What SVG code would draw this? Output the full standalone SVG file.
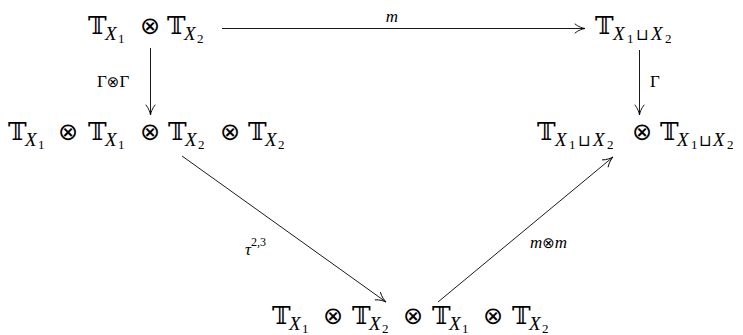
<svg xmlns="http://www.w3.org/2000/svg" width="743" height="335" viewBox="0 0 743 335">
<style>
text{fill:#000}
.bb{font-family:"DejaVu Serif","DejaVu Sans",serif;font-size:25px}
.op{font-family:"DejaVu Sans",sans-serif;font-size:24px}
.sx{font-family:"Liberation Serif",serif;font-style:italic;font-size:19px}
.sd{font-family:"Liberation Serif",serif;font-style:normal;font-size:13px}
.su{font-family:"DejaVu Sans",sans-serif;font-style:normal;font-size:16px}
.lb{font-family:"Liberation Serif",serif;font-size:17px}
.lbi{font-family:"Liberation Serif",serif;font-style:italic;font-size:17px}
.lop{font-family:"DejaVu Sans",sans-serif;font-style:normal;font-size:15px}
.ls{font-family:"Liberation Serif",serif;font-style:normal;font-size:12px}
.ar{stroke:#000;stroke-width:0.9;fill:none;marker-end:url(#to)}
</style>
<defs>
<marker id="to" markerUnits="userSpaceOnUse" viewBox="-11 -6 13 12" markerWidth="13" markerHeight="12" refX="0" refY="0" orient="auto" overflow="visible">
<path d="M-10,-4.5 C-6.5,-1.6 -2.5,-0.5 0,0 C-2.5,0.5 -6.5,1.6 -10,4.5" fill="none" stroke="#000" stroke-width="0.9" stroke-linecap="round"/>
</marker>
</defs>

<g id="n1">
<text><tspan class="bb" x="88" y="34">𝕋</tspan><tspan class="sx" x="105" y="40">X</tspan><tspan class="sd" x="118" y="43">1</tspan><tspan class="op" x="140" y="34">⊗</tspan><tspan class="bb" x="167" y="34">𝕋</tspan><tspan class="sx" x="184" y="40">X</tspan><tspan class="sd" x="197" y="43">2</tspan></text>
</g>

<g id="n2">
<text><tspan class="bb" x="595" y="34">𝕋</tspan><tspan class="sx" x="613" y="40">X</tspan><tspan class="sd" x="627" y="43">1</tspan><tspan class="su" x="636" y="40">⊔</tspan><tspan class="sx" x="651" y="40">X</tspan><tspan class="sd" x="665" y="43">2</tspan></text>
</g>

<g id="n3">
<text><tspan class="bb" x="8" y="140">𝕋</tspan><tspan class="sx" x="25" y="146">X</tspan><tspan class="sd" x="38" y="149">1</tspan><tspan class="op" x="58" y="140">⊗</tspan><tspan class="bb" x="88" y="140">𝕋</tspan><tspan class="sx" x="105" y="146">X</tspan><tspan class="sd" x="118" y="149">1</tspan><tspan class="op" x="140" y="140">⊗</tspan><tspan class="bb" x="168" y="140">𝕋</tspan><tspan class="sx" x="185" y="146">X</tspan><tspan class="sd" x="198" y="149">2</tspan><tspan class="op" x="220" y="140">⊗</tspan><tspan class="bb" x="248" y="140">𝕋</tspan><tspan class="sx" x="265" y="146">X</tspan><tspan class="sd" x="278" y="149">2</tspan></text>
</g>

<g id="n4">
<text><tspan class="bb" x="537" y="140">𝕋</tspan><tspan class="sx" x="555" y="146">X</tspan><tspan class="sd" x="569" y="149">1</tspan><tspan class="su" x="578" y="146">⊔</tspan><tspan class="sx" x="593" y="146">X</tspan><tspan class="sd" x="607" y="149">2</tspan><tspan class="op" x="632" y="140">⊗</tspan><tspan class="bb" x="660" y="140">𝕋</tspan><tspan class="sx" x="677" y="146">X</tspan><tspan class="sd" x="691" y="149">1</tspan><tspan class="su" x="699" y="146">⊔</tspan><tspan class="sx" x="713" y="146">X</tspan><tspan class="sd" x="727" y="149">2</tspan></text>
</g>

<g id="n5">
<text><tspan class="bb" x="272" y="324">𝕋</tspan><tspan class="sx" x="289" y="330">X</tspan><tspan class="sd" x="302" y="333">1</tspan><tspan class="op" x="323" y="324">⊗</tspan><tspan class="bb" x="352" y="324">𝕋</tspan><tspan class="sx" x="369" y="330">X</tspan><tspan class="sd" x="382" y="333">2</tspan><tspan class="op" x="403" y="324">⊗</tspan><tspan class="bb" x="432" y="324">𝕋</tspan><tspan class="sx" x="449" y="330">X</tspan><tspan class="sd" x="462" y="333">1</tspan><tspan class="op" x="483" y="324">⊗</tspan><tspan class="bb" x="512" y="324">𝕋</tspan><tspan class="sx" x="529" y="330">X</tspan><tspan class="sd" x="542" y="333">2</tspan></text>
</g>

<g id="connectors">
<line class="ar" x1="222" y1="28.5" x2="585" y2="28.5"/>
<line class="ar" x1="150.5" y1="48" x2="150.5" y2="115"/>
<line class="ar" x1="639.5" y1="50" x2="639.5" y2="115"/>
<line class="ar" x1="182" y1="156" x2="386" y2="302"/>
<line class="ar" x1="438" y1="302" x2="613" y2="157"/>
<text class="lbi" x="392" y="22" text-anchor="middle">m</text>
<text x="97" y="87"><tspan class="lb">Γ</tspan><tspan class="lop">⊗</tspan><tspan class="lb">Γ</tspan></text>
<text class="lb" x="650" y="87">Γ</text>
<text x="245" y="255"><tspan class="lbi">τ</tspan><tspan class="ls" dy="-9">2,3</tspan></text>
<text x="530" y="248"><tspan class="lbi">m</tspan><tspan class="lop">⊗</tspan><tspan class="lbi">m</tspan></text>
</g>
</svg>
